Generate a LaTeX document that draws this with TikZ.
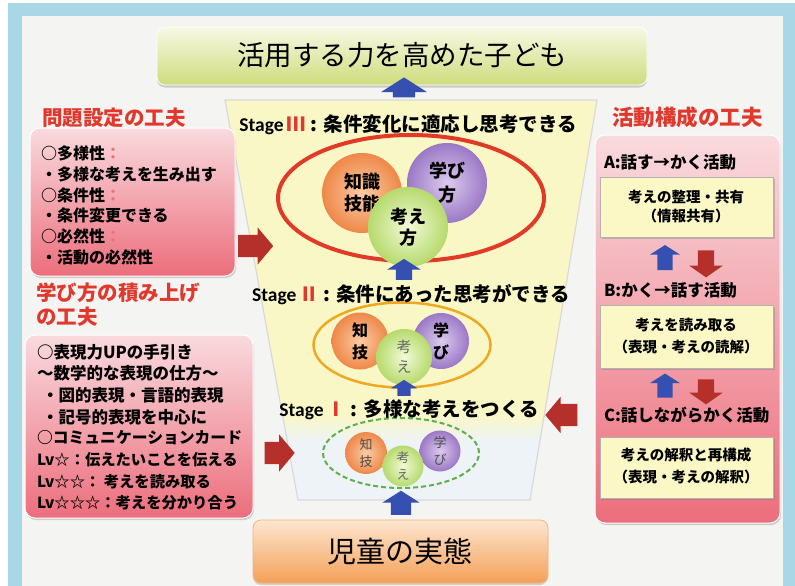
\documentclass[tikz,border=0pt]{standalone}
\usepackage{fontspec}
\newfontfamily\jp{Noto Sans CJK JP}
\newfontfamily\lat{Carlito}
\usetikzlibrary{shapes.arrows,shapes.geometric,shadows}
\definecolor{frameblue}{HTML}{A8D8E6}
\definecolor{innerbg}{HTML}{F4F4F2}
\definecolor{bannerT}{HTML}{F7F9E4}
\definecolor{bannerB}{HTML}{CEDC7C}
\definecolor{orangeT}{HTML}{FDE6D0}
\definecolor{orangeB}{HTML}{F4A058}
\definecolor{pinkT}{HTML}{F9DADE}
\definecolor{pinkB}{HTML}{EC6E7C}
\definecolor{boxyellow}{HTML}{FBF8C6}
\definecolor{funnelY}{HTML}{FAF7C6}
\definecolor{funnelB}{HTML}{EEF3F7}
\definecolor{arrblue}{HTML}{3550B0}
\definecolor{arrred}{HTML}{B5302A}
\definecolor{headred}{HTML}{E2372C}
\definecolor{ringred}{HTML}{E23A26}
\definecolor{ringorange}{HTML}{F0A820}
\definecolor{ringgreen}{HTML}{5BB04A}
\definecolor{cOrI}{HTML}{FCCBA4}
\definecolor{cOrO}{HTML}{EE8848}
\definecolor{cPuI}{HTML}{DCCBEE}
\definecolor{cPuO}{HTML}{9B78C6}
\definecolor{cGrI}{HTML}{F2FAD6}
\definecolor{cGrO}{HTML}{B6DA6C}
\tikzset{
  every node/.style={inner sep=0pt, outer sep=0pt},
  pinkbox/.style={rounded corners=10pt, top color=pinkT, bottom color=pinkB, draw=white, line width=1pt,
    drop shadow={opacity=0.35, shadow xshift=1pt, shadow yshift=-2pt}},
  ybox/.style={fill=boxyellow, draw=gray!60, line width=0.6pt,
    drop shadow={opacity=0.4, shadow xshift=1.5pt, shadow yshift=-1.5pt}},
  head/.style={font=\jp\bfseries\fontsize{20.5}{24}\selectfont, text=headred, anchor=west},
  btext/.style={font=\jp\bfseries\fontsize{16}{18}\selectfont, anchor=west},
  rtext/.style={font=\jp\bfseries\fontsize{16.5}{19}\selectfont, anchor=west},
  ytext/.style={font=\jp\bfseries\fontsize{14.5}{17}\selectfont},
  stagetext/.style={font=\jp\bfseries\fontsize{19.5}{22}\selectfont},
  blk/.style={single arrow, draw=none, inner xsep=0pt},
  bluearr/.style={blk, fill=arrblue, single arrow tip angle=115},
  redarr/.style={blk, fill=arrred, single arrow tip angle=100},
  orc/.style={circle, inner color=cOrI, outer color=cOrO},
  puc/.style={circle, inner color=cPuI, outer color=cPuO},
  grc/.style={circle, inner color=cGrI, outer color=cGrO},
}
\begin{document}
\begin{tikzpicture}[x=1pt,y=-1pt]
\useasboundingbox (0,0) rectangle (795,586);
% frame
\fill[white] (0,0) rectangle (795,586);
\fill[frameblue] (8,3) rectangle (795,586);
\fill[innerbg] (22,16) rectangle (783,586);

% funnel
\fill[funnelB] (225,100) -- (597,100) -- (530,500) -- (298,500) -- cycle;
\begin{scope}
\clip (225,100) -- (597,100) -- (530,500) -- (298,500) -- cycle;
\fill[funnelY] (200,95) rectangle (620,414);
\shade[top color=funnelY, bottom color=funnelB] (200,414) rectangle (620,442);
\end{scope}
\draw[gray!30, line width=1.2pt] (225,100) -- (597,100) -- (530,500) -- (298,500) -- cycle;

% top banner
\node[rounded corners=8pt, top color=bannerT, bottom color=bannerB, draw=white, line width=0.8pt,
  drop shadow={opacity=0.35, shadow xshift=0pt, shadow yshift=-2.5pt},
  minimum width=490pt, minimum height=58pt] (banner) at (402,56) {};
\node[font=\jp\fontsize{27.5}{30}\selectfont] (bannertxt) at (402,55) {活用する力を高めた子ども};

% bottom box
\node[rounded corners=8pt, top color=orangeT, bottom color=orangeB, draw=orangeB!80!white, line width=0.8pt,
  drop shadow={opacity=0.3, shadow xshift=0pt, shadow yshift=-2pt},
  minimum width=295pt, minimum height=63pt] (base) at (400.5,551.5) {};
\node[font=\jp\fontsize{29}{32}\selectfont] (basetxt) at (400,551) {児童の実態};

% Stage III
\node[draw=ringred, line width=4pt, ellipse, minimum width=266pt, minimum height=126pt] (e3) at (411,198) {};
\node[orc, minimum size=80pt, font=\jp\bfseries\fontsize{18}{22}\selectfont, align=center] (c3a) at (362,193) {知識\\技能};
\node[puc, minimum size=80pt, font=\jp\bfseries\fontsize{18}{24}\selectfont, align=center] (c3b) at (447,183) {学び\\方};
\node[grc, minimum size=80pt, font=\jp\bfseries\fontsize{18}{21}\selectfont, align=center] (c3c) at (408,227) {考え\\方};
\node[stagetext] (s3) at (408,125) {{\lat\bfseries Stage}\,{\color{headred}\bfseries Ⅲ} : 条件変化に適応し思考できる};

% Stage II
\node[draw=ringorange, line width=2.5pt, ellipse, minimum width=177pt, minimum height=85pt] (e2) at (402,345) {};
\node[orc, minimum size=57pt, font=\jp\bfseries\fontsize{16}{22}\selectfont, align=center] (c2a) at (360,341) {知\\技};
\node[puc, minimum size=56pt, font=\jp\bfseries\fontsize{16}{22}\selectfont, align=center] (c2b) at (441,341) {学\\び};
\node[grc, minimum size=56pt, font=\jp\fontsize{15}{20}\selectfont, text=black!60, align=center] (c2c) at (404,357) {考\\え};
\node[stagetext] (s2) at (411,295) {{\lat\bfseries Stage}\,{\color{headred}\bfseries Ⅱ} : 条件にあった思考ができる};

% Stage I
\node[draw=ringgreen, line width=2pt, dash pattern=on 5pt off 3pt, ellipse, minimum width=156pt, minimum height=70pt] (e1) at (401,453) {};
\node[orc, minimum size=42pt, font=\jp\fontsize{13}{17}\selectfont, text=black!70, align=center] (c1a) at (366,453) {知\\技};
\node[puc, minimum size=41pt, font=\jp\fontsize{13}{17}\selectfont, text=black!70, align=center] (c1b) at (440,451) {学\\び};
\node[grc, minimum size=41pt, font=\jp\fontsize{13}{17}\selectfont, text=black!60, align=center] (c1c) at (403,466) {考\\え};
\node[stagetext] (s1) at (409,410) {{\lat\bfseries Stage}\,{\color{headred}\bfseries Ⅰ} : 多様な考えをつくる};

% blue up arrows (centre column)
\node[bluearr, rotate=90, minimum height=20pt, inner ysep=11pt, single arrow head extend=12pt] (a1) at (404,91) {};
\node[bluearr, rotate=90, minimum height=21pt, inner ysep=8pt, single arrow head extend=8.5pt] (a2) at (404,272) {};
\node[bluearr, rotate=90, minimum height=16pt, inner ysep=6.5pt, single arrow head extend=6.5pt] (a3) at (404,390) {};
\node[bluearr, rotate=90, minimum height=24pt, inner ysep=10pt, single arrow head extend=8.5pt] (a4) at (401,506) {};

% left box 1
\node[head] (h1) at (42,118) {問題設定の工夫};
\node[pinkbox, minimum width=205pt, minimum height=148pt] (pb1) at (132.5,202) {};
\node[btext] (l11) at (41,153) {○多様性{\color{headred!70}：}};
\node[btext] (l12) at (41,174) {・多様な考えを生み出す};
\node[btext] (l13) at (41,195) {○条件性{\color{headred!70}：}};
\node[btext] (l14) at (41,215) {・条件変更できる};
\node[btext] (l15) at (41,236) {○必然性{\color{headred!70}：}};
\node[btext] (l16) at (41,257) {・活動の必然性};
\node[redarr, minimum height=35pt, inner ysep=11pt, single arrow head extend=7.5pt] (r1) at (251,246) {};

% left box 2
\node[head] (h2a) at (36,293) {学び方の積み上げ};
\node[head] (h2b) at (36,317) {の工夫};
\node[pinkbox, minimum width=228pt, minimum height=183pt] (pb2) at (139,426.5) {};
\node[btext, font=\jp\bfseries\fontsize{16.5}{18}\selectfont] (l21) at (37,352) {○表現力UPの手引き};
\node[btext, font=\jp\bfseries\fontsize{16.5}{18}\selectfont] (l22) at (37,373) {〜数学的な表現の仕方〜};
\node[btext, font=\jp\bfseries\fontsize{16.5}{18}\selectfont] (l23) at (42,395) {・図的表現・言語的表現};
\node[btext, font=\jp\bfseries\fontsize{16.5}{18}\selectfont] (l24) at (42,417) {・記号的表現を中心に};
\node[btext, font=\jp\bfseries\fontsize{15.8}{18}\selectfont] (l25) at (37,438) {○コミュニケーションカード};
\node[btext, font=\jp\bfseries\fontsize{15.3}{18}\selectfont] (l26) at (37,460) {Lv☆：伝えたいことを伝える};
\node[btext, font=\jp\bfseries\fontsize{15.3}{18}\selectfont] (l27) at (37,482) {Lv☆☆： 考えを読み取る};
\node[btext, font=\jp\bfseries\fontsize{15.3}{18}\selectfont] (l28) at (37,503) {Lv☆☆☆：考えを分かり合う};
\node[redarr, minimum height=30pt, inner ysep=11pt, single arrow head extend=7.5pt] (r2) at (275,453) {};

% right box
\node[head, font=\jp\bfseries\fontsize{21.5}{24}\selectfont] (h3) at (612,117) {活動構成の工夫};
\node[pinkbox, minimum width=185pt, minimum height=388pt] (pb3) at (687.5,329) {};
\node[rtext] (ra) at (604,162) {A:話す→かく活動};
\node[ybox, minimum width=173pt, minimum height=60pt] (yb1) at (686.5,207) {};
\node[ytext] (y11) at (686,197) {考えの整理・共有};
\node[ytext] (y12) at (686,216) {（情報共有）};
\node[bluearr, rotate=90, minimum height=25pt, inner ysep=7.5pt, single arrow head extend=7.5pt] (ua1) at (665,260) {};
\node[redarr, rotate=-90, minimum height=27pt, inner ysep=8pt, single arrow head extend=8.5pt, single arrow tip angle=110] (da1) at (706,261) {};
\node[rtext] (rb) at (604,290) {B:かく→話す活動};
\node[ybox, minimum width=173pt, minimum height=63pt] (yb2) at (686.5,336.5) {};
\node[ytext] (y21) at (686,325) {考えを読み取る};
\node[ytext] (y22) at (686,347) {（表現・考えの読解）};
\node[bluearr, rotate=90, minimum height=24pt, inner ysep=7.5pt, single arrow head extend=7.5pt] (ua2) at (665,388) {};
\node[redarr, rotate=-90, minimum height=25pt, inner ysep=8pt, single arrow head extend=8.5pt, single arrow tip angle=110] (da2) at (706,389) {};
\node[rtext] (rc) at (604,415) {C:話しながらかく活動};
\node[ybox, minimum width=173pt, minimum height=61pt] (yb3) at (686.5,467.5) {};
\node[ytext] (y31) at (686,455) {考えの解釈と再構成};
\node[ytext] (y32) at (686,477) {（表現・考えの解釈）};
\node[redarr, rotate=180, minimum height=32pt, inner ysep=11pt, single arrow head extend=7pt] (r3) at (566,415) {};
\end{tikzpicture}
\end{document}
